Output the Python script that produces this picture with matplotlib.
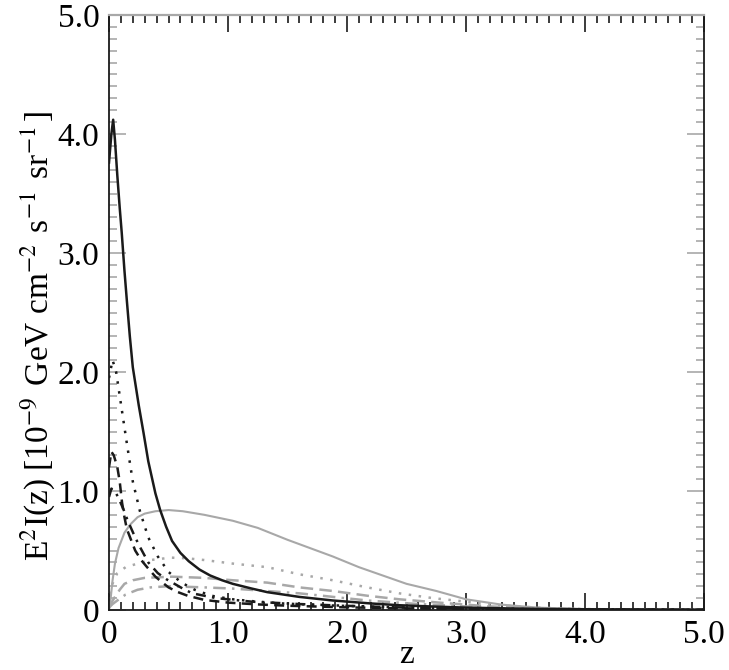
import numpy as np
import matplotlib
matplotlib.use('Agg')
import matplotlib.pyplot as plt
from matplotlib import font_manager
from matplotlib.ticker import MultipleLocator, FixedFormatter, FixedLocator

try:
    font_manager.findfont('Liberation Serif', fallback_to_default=False)
    SERIF = 'Liberation Serif'
except Exception:
    SERIF = 'STIXGeneral'
plt.rcParams['font.family'] = [SERIF, 'STIXGeneral', 'DejaVu Serif']
plt.rcParams['mathtext.fontset'] = 'stix'

# black solid
z_bs = [0, 0.02, 0.035, 0.05, 0.07, 0.09, 0.107, 0.13, 0.15, 0.175, 0.2, 0.25,
        0.29, 0.33, 0.39, 0.43, 0.48, 0.53, 0.6, 0.67, 0.76, 0.85, 0.95, 1.04,
        1.2, 1.33, 1.6, 1.88, 2.2, 2.44, 2.7, 3.0, 3.5, 4.0, 5.0]
y_bs = [3.76, 4.0, 4.12, 3.95, 3.65, 3.38, 3.17, 2.85, 2.6, 2.3, 2.04, 1.72,
        1.49, 1.25, 0.98, 0.84, 0.70, 0.58, 0.48, 0.41, 0.34, 0.29, 0.25, 0.22,
        0.18, 0.15, 0.11, 0.08, 0.055, 0.04, 0.03, 0.02, 0.01, 0.006, 0.002]

# black dotted
z_bd = [0, 0.03, 0.06, 0.09, 0.12, 0.15, 0.2, 0.26, 0.33, 0.41, 0.5, 0.61,
        0.72, 0.86, 1.04, 1.25, 1.46, 1.75, 2.0, 2.5, 3.0, 4.0, 5.0]
y_bd = [1.95, 2.1, 2.0, 1.8, 1.6, 1.40, 1.08, 0.83, 0.61, 0.45, 0.32, 0.23,
        0.17, 0.12, 0.09, 0.07, 0.055, 0.042, 0.034, 0.02, 0.012, 0.004, 0.001]

# black dashed
z_bda = [0, 0.02, 0.04, 0.07, 0.09, 0.11, 0.13, 0.15, 0.22, 0.27, 0.32, 0.39,
         0.45, 0.5, 0.58, 0.66, 0.8, 1.0, 1.25, 1.5, 2.0, 2.5, 3.0, 4.0, 5.0]
y_bda = [1.2, 1.33, 1.3, 1.2, 1.08, 0.9, 0.78, 0.68, 0.5, 0.42, 0.36, 0.28,
         0.23, 0.19, 0.15, 0.12, 0.085, 0.062, 0.047, 0.036, 0.022, 0.014, 0.009,
         0.003, 0.001]

# black dash-dot
z_bdd = [0, 0.02, 0.05, 0.08, 0.12, 0.15, 0.18, 0.22, 0.26, 0.33, 0.41, 0.48,
         0.55, 0.62, 0.70, 0.8, 0.9, 1.05, 1.2, 1.6, 2.0, 2.5, 3.0, 4.0, 5.0]
y_bdd = [0.95, 1.02, 1.0, 0.94, 0.85, 0.77, 0.70, 0.61, 0.53, 0.40, 0.31, 0.26,
         0.22, 0.18, 0.14, 0.12, 0.10, 0.085, 0.07, 0.05, 0.035, 0.02, 0.012,
         0.004, 0.001]

# grey solid
z_gs = [0, 0.01, 0.03, 0.05, 0.08, 0.13, 0.18, 0.24, 0.3, 0.39, 0.5, 0.62, 0.8,
        1.04, 1.25, 1.5, 1.88, 2.1, 2.3, 2.5, 2.75, 3.0, 3.3, 3.6, 4.0, 4.5, 5.0]
y_gs = [0, 0.06, 0.25, 0.39, 0.52, 0.65, 0.72, 0.78, 0.81, 0.83, 0.84, 0.83, 0.80,
        0.75, 0.69, 0.59, 0.45, 0.36, 0.29, 0.22, 0.16, 0.09, 0.045, 0.02, 0.008,
        0.003, 0.001]

# grey dotted
z_gd = [0, 0.02, 0.07, 0.14, 0.24, 0.35, 0.52, 0.65, 0.8, 1.04, 1.33, 1.6, 1.88,
        2.17, 2.44, 2.72, 3.0, 3.28, 3.6, 4.0, 4.5, 5.0]
y_gd = [0.05, 0.2, 0.31, 0.36, 0.39, 0.42, 0.44, 0.435, 0.42, 0.39, 0.36, 0.30,
        0.25, 0.19, 0.14, 0.10, 0.07, 0.04, 0.02, 0.008, 0.003, 0.001]

# grey dashed
z_gda = [0, 0.02, 0.05, 0.09, 0.13, 0.2, 0.3, 0.53, 0.8, 1.04, 1.33, 1.6, 1.88,
         2.17, 2.44, 2.8, 3.2, 3.6, 4.0, 5.0]
y_gda = [0.02, 0.06, 0.11, 0.17, 0.22, 0.25, 0.27, 0.28, 0.27, 0.25, 0.23, 0.19,
         0.16, 0.12, 0.09, 0.06, 0.03, 0.015, 0.006, 0.001]

# grey dash-dot
z_gdd = [0, 0.03, 0.07, 0.14, 0.24, 0.35, 0.5, 0.8, 1.04, 1.6, 2.17, 2.6, 3.0,
         3.5, 4.0, 5.0]
y_gdd = [0.02, 0.05, 0.08, 0.13, 0.17, 0.19, 0.2, 0.19, 0.18, 0.14, 0.08, 0.05,
         0.03, 0.012, 0.005, 0.001]

tick_vals = [0, 1, 2, 3, 4, 5]
tick_labels = ['0', '1.0', '2.0', '3.0', '4.0', '5.0']

BLACK = '#1a1a1a'
GREY = '#a8a8a8'

fig = plt.figure(figsize=(7.29, 6.70), dpi=100)
ax = fig.add_axes([109 / 729, 60 / 670, 595 / 729, 595 / 670])

ax.plot(z_gs, y_gs, color=GREY, lw=1.5)
ax.plot(z_gd, y_gd, color=GREY, lw=1.8, ls=(0, (1, 3)))
ax.plot(z_gda, y_gda, color=GREY, lw=1.8, ls=(0, (5, 2.5)))
ax.plot(z_gdd, y_gdd, color=GREY, lw=1.8, ls=(0, (5, 2.5, 1, 2.5)))
ax.plot(z_bs, y_bs, color=BLACK, lw=1.8)
ax.plot(z_bd, y_bd, color=BLACK, lw=1.8, ls=(0, (1, 3)))
ax.plot(z_bda, y_bda, color=BLACK, lw=1.8, ls=(0, (4, 2.5)))
ax.plot(z_bdd, y_bdd, color=BLACK, lw=1.8, ls=(0, (4, 2.5, 1, 2.5)))

ax.set_xlim(0, 5)
ax.set_ylim(0, 5)
for a in (ax.xaxis, ax.yaxis):
    a.set_major_locator(FixedLocator(tick_vals))
    a.set_major_formatter(FixedFormatter(tick_labels))
    a.set_minor_locator(MultipleLocator(0.1))

ax.tick_params(which='both', direction='in', top=True, right=True,
               labelsize=24, width=1.2)
ax.tick_params(which='major', length=12)
ax.tick_params(which='minor', length=6)
ax.tick_params(axis='x', which='both', color=BLACK, pad=7)
ax.tick_params(axis='y', which='both', color=GREY, pad=7)

for s in ('left', 'bottom', 'right'):
    ax.spines[s].set_color(BLACK)
    ax.spines[s].set_linewidth(1.3)
ax.spines['top'].set_color(GREY)
ax.spines['top'].set_linewidth(1.6)

ax.set_xlabel('z', fontsize=24, labelpad=-8)
ax.set_ylabel(r'E$^2$I(z) [10$^{-9\,}$ GeV cm$^{-2\,}$ s$^{-1\,}$ sr$^{-1\,}$]',
              fontsize=24)
ax.yaxis.set_label_coords(-0.088, 0.46)

fig.savefig('out.png', dpi=100)
